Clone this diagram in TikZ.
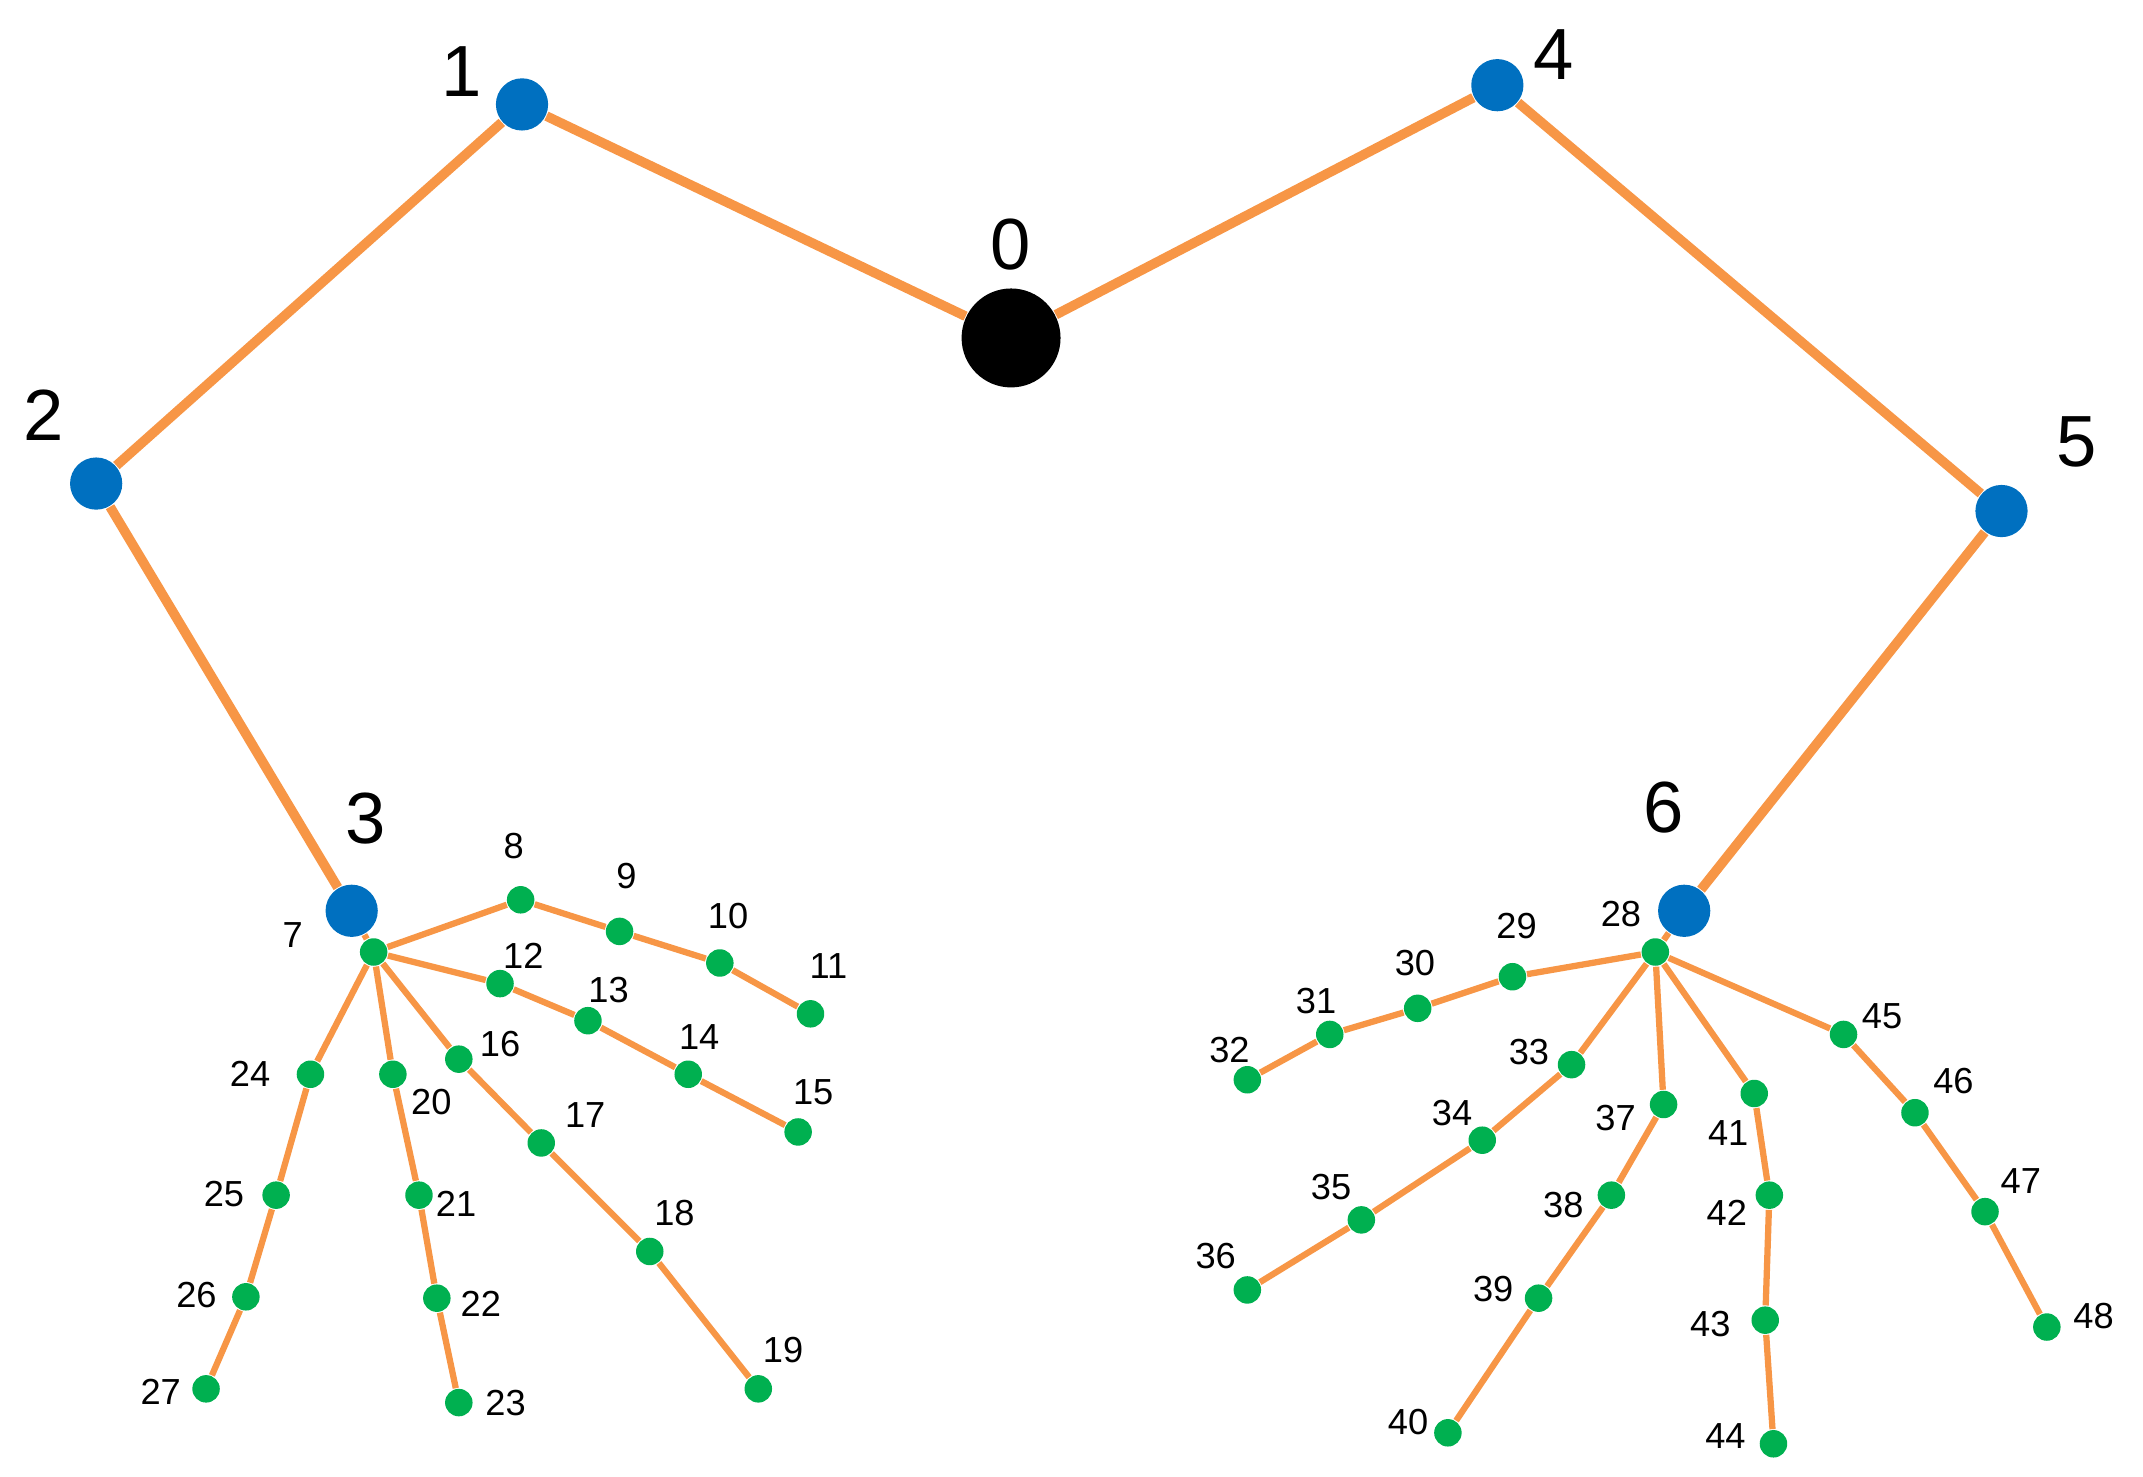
\documentclass[tikz,border=0pt]{standalone}
\usepackage{fontspec}
\setmainfont{Liberation Sans}
\definecolor{edgeor}{RGB}{247,150,70}
\definecolor{nblue}{RGB}{0,112,192}
\definecolor{ngreen}{RGB}{0,176,80}
\begin{document}
\begin{tikzpicture}[x=0.01cm,y=-0.01cm,
  bn/.style={circle,fill=nblue,inner sep=0,minimum size=0.38cm},
  gn/.style={circle,fill=ngreen,inner sep=0,minimum size=0.2cm},
  ln/.style={font=\fontsize{15}{15}\selectfont},
  sn/.style={font=\fontsize{7.5}{8}\selectfont},
  be/.style={draw=edgeor,line width=2pt},
  se/.style={draw=edgeor,line width=1.3pt}]
\useasboundingbox (0,0) rectangle (1560,1075);
\node[circle,fill=black,inner sep=0,minimum size=0.72cm] (n0) at (736,246) {};
\foreach \i/\x/\y in {1/380/76,2/70/352,3/256/663,4/1090/62,5/1457/372,6/1226/663}
  \node[bn] (n\i) at (\x,\y) {};
\foreach \i/\x/\y in {7/272/693,8/379/655,9/451/678,10/524/701,11/590/738,12/364/716,13/428/743,14/501/782,15/581/824,16/334/771,17/394/832,18/473/911,19/552/1011,20/286/782,21/305/870,22/318/945,23/334/1021,24/226/782,25/201/870,26/179/944,27/150/1011,28/1205/693,29/1101/711,30/1032/734,31/968/753,32/908/786,33/1144/775,34/1079/830,35/991/888,36/908/939,37/1211/804,38/1173/870,39/1120/945,40/1054/1043,41/1277/796,42/1288/870,43/1285/961,44/1291/1051,45/1342/753,46/1394/810,47/1445/882,48/1490/966}
  \node[gn] (n\i) at (\x,\y) {};
\foreach \i/\x/\y in {0/736/178,1/336/52,2/32/302,3/266/596,4/1131/40,5/1512/322,6/1211/588}
  \node[ln] (l\i) at (\x,\y) {\i};
\foreach \i/\x/\y in {7/213/681,8/374/616,9/456/638,10/530/667,11/603/703,12/381/696,13/443/721,14/509/755,15/592/795,16/364/760,17/426/812,18/491/883,19/570/983,20/314/802,21/332/876,22/350/949,23/368/1021,24/182/782,25/163/869,26/143/943,27/117/1013,28/1180/665,29/1104/674,30/1030/701,31/958/729,32/895/764,33/1113/766,34/1057/810,35/969/864,36/885/914,37/1176/814,38/1138/877,39/1087/938,40/1025/1035,41/1258/825,42/1257/883,43/1245/964,44/1256/1045,45/1370/740,46/1422/787,47/1471/860,48/1524/958}
  \node[sn] (l\i) at (\x,\y) {\i};
\foreach \a/\b in {0/1,1/2,2/3,0/4,4/5,5/6}
  \draw[be] (n\a) -- (n\b);
\foreach \a/\b in {3/7,7/8,8/9,9/10,10/11,7/12,12/13,13/14,14/15,7/16,16/17,17/18,18/19,7/20,20/21,21/22,22/23,7/24,24/25,25/26,26/27,6/28,28/29,29/30,30/31,31/32,28/33,33/34,34/35,35/36,28/37,37/38,38/39,39/40,28/41,41/42,42/43,43/44,28/45,45/46,46/47,47/48}
  \draw[se] (n\a) -- (n\b);
\end{tikzpicture}
\end{document}
